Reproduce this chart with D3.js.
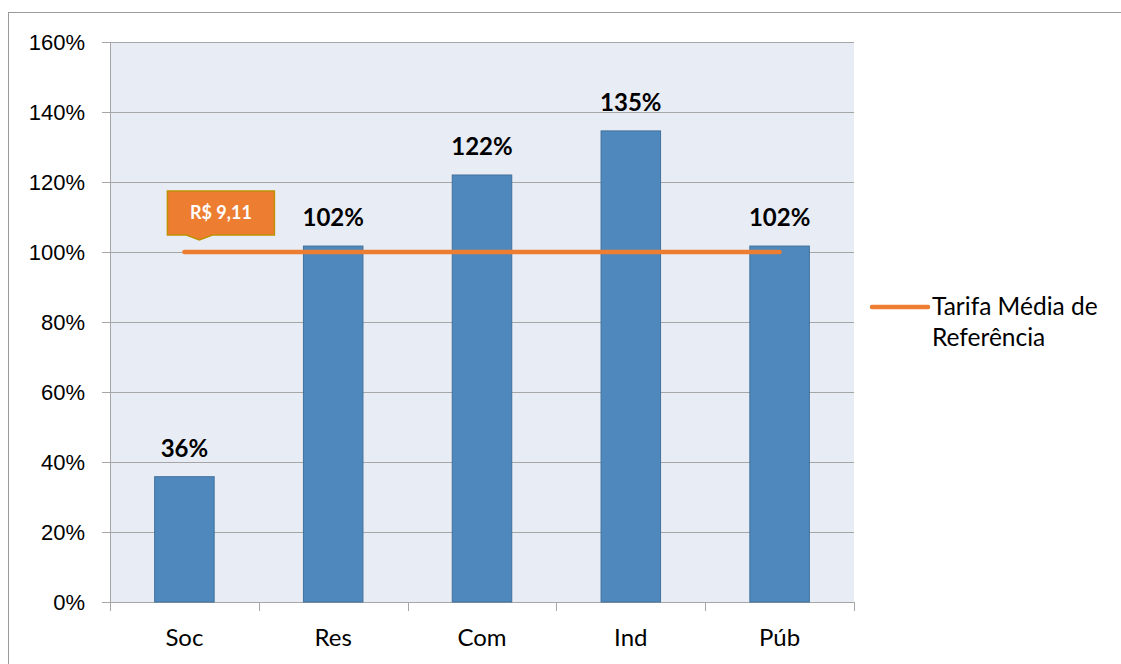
<!DOCTYPE html>
<html>
<head>
<meta charset="utf-8">
<script src="https://cdn.jsdelivr.net/npm/d3@7"></script>
<style>
    html, body { margin: 0; padding: 0; background: #fff; }
    svg { display: block; font-family: Lato, "Open Sans", sans-serif; }
    .axis path, .axis line { stroke: #a6a6a6; }
    .axis text { fill: #000; }
</style>
</head>
<body>
<div id="chart"></div>
<script>
// ============================================================================
// DATA
// ============================================================================

const categories = ["Soc", "Res", "Com", "Ind", "Púb"];
const values     = [0.358, 1.017, 1.22, 1.346, 1.017];
const yTicks     = [0, 0.2, 0.4, 0.6, 0.8, 1.0, 1.2, 1.4, 1.6];

const refValue   = 1.0;
const refCallout = "R$ 9,11";
const refLegend  = ["Tarifa Média de", "Referência"];


// ============================================================================
// SETUP
// ============================================================================

const W = 1121, H = 664;
const margin = { top: 42, right: 267, bottom: 62, left: 110 };
const width  = W - margin.left - margin.right;
const height = H - margin.top  - margin.bottom;

const svg = d3.select("#chart")
    .append("svg")
    .attr("width", W)
    .attr("height", H);

// outer chart frame (right and bottom edges fall outside the picture)
svg.append("rect")
    .attr("x", 8.5).attr("y", 12.5)
    .attr("width", 1130).attr("height", 700)
    .attr("fill", "none")
    .attr("stroke", "#9a9a9a");

const g = svg.append("g")
    .attr("transform", `translate(${margin.left},${margin.top})`);

const x = d3.scaleBand()
    .domain(categories)
    .range([0, width])
    .paddingInner(0.6)
    .paddingOuter(0.3);

const y = d3.scaleLinear()
    .domain([0, 1.6])
    .range([height, 0]);

const fmt = d3.format(".0%");


// ============================================================================
// PLOT AREA + GRID
// ============================================================================

g.append("rect")
    .attr("width", width)
    .attr("height", height)
    .attr("fill", "#e8ecf5");

g.selectAll("line.grid")
    .data(yTicks)
    .join("line")
    .attr("class", "grid")
    .attr("x1", 0).attr("x2", width)
    .attr("y1", d => Math.round(y(d)) + 0.5)
    .attr("y2", d => Math.round(y(d)) + 0.5)
    .attr("stroke", "#a6a6a6");


// ============================================================================
// AXES
// ============================================================================

const yAxis = g.append("g")
    .attr("class", "axis")
    .call(d3.axisLeft(y).tickValues(yTicks).tickFormat(fmt).tickSize(8).tickPadding(17));
yAxis.select(".domain").attr("d", `M0.5,0V${height}`);
yAxis.selectAll("text").style("font-size", "22px");

// category boundary ticks on the x axis
const step = x.step();
const xAxis = g.append("g")
    .attr("class", "axis")
    .attr("transform", `translate(0,${height})`);

xAxis.append("line")
    .attr("x1", 0).attr("x2", width)
    .attr("y1", 0.5).attr("y2", 0.5);

xAxis.selectAll("line.tick")
    .data(d3.range(categories.length + 1))
    .join("line")
    .attr("class", "tick")
    .attr("x1", i => Math.round(i * step) + 0.5)
    .attr("x2", i => Math.round(i * step) + 0.5)
    .attr("y1", 0).attr("y2", 9);

xAxis.selectAll("text")
    .data(categories)
    .join("text")
    .attr("x", d => x(d) + x.bandwidth() / 2)
    .attr("y", 44)
    .attr("text-anchor", "middle")
    .style("font-size", "24px")
    .text(d => d);


// ============================================================================
// BARS + LABELS
// ============================================================================

const data = categories.map((c, i) => ({ cat: c, value: values[i] }));

g.selectAll("rect.bar")
    .data(data)
    .join("rect")
    .attr("class", "bar")
    .attr("x",      d => x(d.cat))
    .attr("width",  x.bandwidth())
    .attr("y",      d => y(d.value))
    .attr("height", d => height - y(d.value))
    .attr("fill",   "#4f88bc")
    .attr("stroke", "#41719c")
    .attr("stroke-width", 1);

g.selectAll("text.value")
    .data(data)
    .join("text")
    .attr("class", "value")
    .attr("x", d => x(d.cat) + x.bandwidth() / 2)
    .attr("y", d => y(d.value) - 20)
    .attr("text-anchor", "middle")
    .style("font-size", "24px")
    .style("font-weight", "bold")
    .attr("fill", "#000")
    .text(d => fmt(d.value));


// ============================================================================
// REFERENCE LINE + CALLOUT
// ============================================================================

const refLine = d3.line()
    .x(d => x(d) + x.bandwidth() / 2)
    .y(() => y(refValue));

g.append("path")
    .datum([categories[0], categories[categories.length - 1]])
    .attr("d", refLine)
    .attr("fill", "none")
    .attr("stroke", "#ed7d31")
    .attr("stroke-width", 4.5)
    .attr("stroke-linecap", "round");

const cx0 = x(categories[0]) + x.bandwidth() / 2;
const cy0 = y(refValue);
const bx0 = cx0 - 17, bx1 = cx0 + 90;
const by0 = cy0 - 61, by1 = cy0 - 17;

g.append("path")
    .attr("d", `M${bx0},${by0}H${bx1}V${by1}H${cx0 + 28}L${cx0 + 15},${cy0 - 12}L${cx0 + 2},${by1}H${bx0}Z`)
    .attr("fill", "#ed7d31")
    .attr("stroke", "#bf9000")
    .attr("stroke-width", 1.5);

g.append("text")
    .attr("x", (bx0 + bx1) / 2)
    .attr("y", (by0 + by1) / 2 + 6)
    .attr("text-anchor", "middle")
    .style("font-size", "18px")
    .style("font-weight", "bold")
    .attr("fill", "#fff")
    .text(refCallout);


// ============================================================================
// LEGEND
// ============================================================================

const legend = svg.append("g")
    .attr("transform", "translate(872,307)");

legend.append("line")
    .attr("x1", 0).attr("x2", 56)
    .attr("stroke", "#ed7d31")
    .attr("stroke-width", 4.5)
    .attr("stroke-linecap", "round");

legend.selectAll("text")
    .data(refLegend)
    .join("text")
    .attr("x", 60)
    .attr("y", (d, i) => 8 + i * 31)
    .style("font-size", "24.5px")
    .attr("fill", "#000")
    .text(d => d);
</script>
</body>
</html>
